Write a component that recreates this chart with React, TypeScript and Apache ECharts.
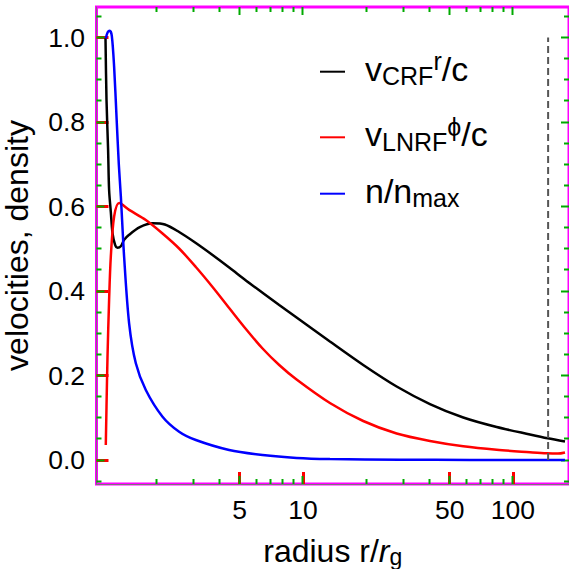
import React, { useEffect, useRef } from 'react';
import * as echarts from 'echarts';

// ---- data ----
const radiusCRF = [1.1494, 1.1621, 1.1826, 1.1957, 1.2182, 1.2411, 1.2771, 1.3112, 1.3594, 1.4095, 1.4889, 1.6746, 1.9243, 2.2025, 2.5755, 3.0937, 3.7154, 4.4915, 5.354, 6.4495, 7.714, 9.3325, 13.447, 19.373, 27.944, 40.255, 57.99, 83.62, 120.46, 146.3, 176.85];
const vCRF = [0.998, 0.852, 0.734, 0.639, 0.587, 0.537, 0.509, 0.5025, 0.506, 0.521, 0.533, 0.551, 0.5602, 0.5574, 0.5396, 0.5136, 0.4852, 0.4544, 0.4249, 0.3953, 0.3669, 0.3373, 0.2805, 0.2249, 0.174, 0.1325, 0.1006, 0.0781, 0.0604, 0.0514, 0.0438];

const radiusLNRF = [1.1531, 1.1621, 1.1749, 1.1957, 1.2182, 1.2632, 1.3343, 1.4889, 1.7879, 2.1474, 2.5755, 3.0937, 3.7154, 4.4572, 5.354, 6.4284, 7.714, 9.3325, 13.447, 19.373, 27.944, 40.255, 57.99, 83.62, 120.46, 144.7, 163.8, 176.85];
const vLNRF = [0.0355, 0.126, 0.2445, 0.379, 0.481, 0.576, 0.608, 0.592, 0.568, 0.5361, 0.5006, 0.4568, 0.4095, 0.3598, 0.3101, 0.2639, 0.2249, 0.1905, 0.1349, 0.0923, 0.0627, 0.045, 0.0324, 0.0241, 0.0184, 0.0158, 0.0151, 0.0178];

const radiusDensity = [1.1531, 1.1787, 1.2049, 1.2316, 1.2632, 1.2969, 1.3299, 1.3594, 1.4095, 1.4889, 1.6025, 1.7879, 2.1474, 2.5755, 3.0937, 4.4572, 6.4284, 9.3325, 13.447, 28.97, 62.41, 176.85];
const density = [0.998, 1.013, 1.016, 1.004, 0.931, 0.8125, 0.7, 0.625, 0.481, 0.3235, 0.229, 0.1657, 0.1025, 0.067, 0.0473, 0.0237, 0.0118, 0.005, 0.0024, 0.0007, 0.0002, 0.0];

const markerRadius = 147;
const markerSpan = [0, 1.0];

const xMajorTicks = [5, 10, 50, 100];
const xMinorTicks = [2, 3, 4, 6, 7, 8, 9, 20, 30, 40, 60, 70, 80, 90];
const yMajorTicks = [0, 0.2, 0.4, 0.6, 0.8, 1.0];
const yMinorTicks = [-0.05, 0.05, 0.1, 0.15, 0.25, 0.3, 0.35, 0.45, 0.5, 0.55, 0.65, 0.7, 0.75, 0.85, 0.9, 0.95, 1.05];

const rMin = 1.0414;
const rMax = 184.8;
const yMin = -0.0568;
const yMax = 1.0722;

const FONT = '"Liberation Sans", Arial, Helvetica, sans-serif';
const AXIS_COLOR = '#ff0000';
const TICK2_COLOR = '#00aa00';
const MAJOR_LEN = 8;
const MINOR_LEN = 5;

const lg = (v: number) => Math.log10(v);
const toPoints = (rs: number[], vs: number[]) => rs.map((r, i) => [lg(r), vs[i]]);
const snap = (v: number) => Math.round(v - 0.5) + 0.5;

export default function App() {
  const ref = useRef<HTMLDivElement>(null);

  useEffect(() => {
    if (!ref.current) return;
    const chart = echarts.init(ref.current, undefined, { renderer: 'svg' });

    const xMin = lg(rMin);
    const xMax = lg(rMax);

    const richLegend = (subLH: number) => ({
      b0: { fontSize: 34, fontFamily: FONT, color: '#000', lineHeight: 40, padding: [0, 0, 0, 15] },
      b: { fontSize: 34, fontFamily: FONT, color: '#000', lineHeight: 40 },
      s: { fontSize: 25, fontFamily: FONT, color: '#000', lineHeight: subLH, verticalAlign: 'bottom' },
      p: { fontSize: 25, fontFamily: FONT, color: '#000', lineHeight: 15, verticalAlign: 'top' },
    });

    const legendLabels: Record<string, string> = {
      vCRF: '{b0|v}{s|CRF}{p|r}{b|/c}',
      vLNRF: '{b0|v}{s|LNRF}{p|ϕ}{b|/c}',
      density: '{b0|n/n}{s|max}',
    };

    const mkLegend = (name: string, centerY: number, subLH: number) => ({
      data: [{ name, icon: 'rect' }],
      left: 320,
      top: centerY - 23,
      orient: 'vertical',
      padding: 0,
      itemWidth: 25,
      itemHeight: 2,
      selectedMode: false,
      formatter: (n: string) => legendLabels[n],
      textStyle: { fontSize: 34, fontFamily: FONT, color: '#000', padding: [0, 0, 6, 0], rich: richLegend(subLH) },
    });

    const lineSeries = (name: string, data: number[][], color: string) => ({
      type: 'line',
      name,
      data,
      symbol: 'none',
      showSymbol: false,
      smooth: 0.3,
      lineStyle: { color, width: 2.5 },
      itemStyle: { color },
    });

    const xTickData = [...xMajorTicks, ...xMinorTicks].map((r) => [lg(r), yMin]);
    const yTickData = [...yMajorTicks, ...yMinorTicks].map((v) => [xMin, v]);

    const xTickSeries = {
      type: 'custom',
      name: 'xticks',
      clip: false,
      data: xTickData,
      renderItem: (params: any, api: any) => {
        const x = snap(api.coord([api.value(0), yMin])[0]);
        const yb = api.coord([xMin, yMin])[1];
        const yt = api.coord([xMin, yMax])[1];
        const len = params.dataIndex < xMajorTicks.length ? MAJOR_LEN : MINOR_LEN;
        return {
          type: 'group',
          children: [
            { type: 'line', shape: { x1: x, y1: yb, x2: x, y2: yb - len }, style: { stroke: TICK2_COLOR, lineWidth: 2 } },
            { type: 'line', shape: { x1: x, y1: yt, x2: x, y2: yt + len }, style: { stroke: TICK2_COLOR, lineWidth: 2 } },
          ],
        };
      },
    };

    const yTickSeries = {
      type: 'custom',
      name: 'yticks',
      clip: false,
      data: yTickData,
      renderItem: (params: any, api: any) => {
        const y = snap(api.coord([xMin, api.value(1)])[1]);
        const xl = api.coord([xMin, yMin])[0];
        const xr = api.coord([xMax, yMin])[0];
        const len = params.dataIndex < yMajorTicks.length ? MAJOR_LEN : MINOR_LEN;
        return {
          type: 'group',
          children: [
            { type: 'line', shape: { x1: xl, y1: y, x2: xl + len, y2: y }, style: { stroke: TICK2_COLOR, lineWidth: 2 } },
            { type: 'line', shape: { x1: xr, y1: y, x2: xr - len, y2: y }, style: { stroke: TICK2_COLOR, lineWidth: 2 } },
          ],
        };
      },
    };

    chart.setOption({
      animation: false,
      grid: {
        left: 96.5,
        right: 0,
        top: 7,
        bottom: 85,
        outerBoundsMode: 'none',
        show: true,
        borderColor: '#ff00ff',
        borderWidth: 3,
      },
      xAxis: {
        type: 'value',
        position: 'bottom',
        min: xMin,
        max: xMax,
        axisLine: { show: true, onZero: false, lineStyle: { color: '#777777', width: 1 } },
        axisTick: { show: true, inside: true, length: 12, customValues: xMajorTicks.map(lg), lineStyle: { color: AXIS_COLOR, width: 3 } },
        axisLabel: {
          show: true,
          customValues: xMajorTicks.map(lg),
          formatter: (v: number) => String(Math.round(Math.pow(10, v))),
          margin: 12,
          fontSize: 26.5,
          color: '#000',
          fontFamily: FONT,
        },
        splitLine: { show: false },
        name: '{a|radius r/}{i|r}{s|g}',
        nameLocation: 'middle',
        nameGap: 48.6,
        nameTextStyle: {
          color: '#000',
          fontFamily: FONT,
          fontSize: 32,
          rich: {
            a: { fontSize: 32, fontFamily: FONT, color: '#000', lineHeight: 36 },
            i: { fontSize: 32, fontFamily: FONT, color: '#000', lineHeight: 36, fontStyle: 'italic' },
            s: { fontSize: 23, fontFamily: FONT, color: '#000', lineHeight: 18, verticalAlign: 'bottom' },
          },
        },
      },
      yAxis: {
        type: 'value',
        position: 'left',
        min: yMin,
        max: yMax,
        axisLine: { show: true, onZero: false, lineStyle: { color: '#777777', width: 1 } },
        axisTick: { show: true, inside: true, length: 12, customValues: yMajorTicks, lineStyle: { color: AXIS_COLOR, width: 3 } },
        axisLabel: {
          show: true,
          customValues: yMajorTicks,
          formatter: (v: number) => v.toFixed(1),
          margin: 11.5,
          fontSize: 26.5,
          color: '#000',
          fontFamily: FONT,
        },
        splitLine: { show: false },
        name: 'velocities, density',
        nameLocation: 'middle',
        nameGap: 52.8,
        nameTextStyle: { color: '#000', fontFamily: FONT, fontSize: 32, lineHeight: 40 },
      },
      legend: [mkLegend('vCRF', 71.7, 25), mkLegend('vLNRF', 137.3, 25), mkLegend('density', 196.7, 18)],
      series: [
        lineSeries('vCRF', toPoints(radiusCRF, vCRF), '#000000'),
        lineSeries('vLNRF', toPoints(radiusLNRF, vLNRF), '#ff0000'),
        lineSeries('density', toPoints(radiusDensity, density), '#0000ff'),
        {
          type: 'line',
          name: 'marker',
          data: markerSpan.map((v) => [lg(markerRadius), v]),
          symbol: 'none',
          lineStyle: { color: '#555555', width: 2, type: [7, 4] },
        },
        xTickSeries,
        yTickSeries,
      ],
    });

    return () => chart.dispose();
  }, []);

  return <div ref={ref} style={{ position: 'absolute', left: 0, top: 0, width: 569, height: 569, background: '#fff' }} />;
}
